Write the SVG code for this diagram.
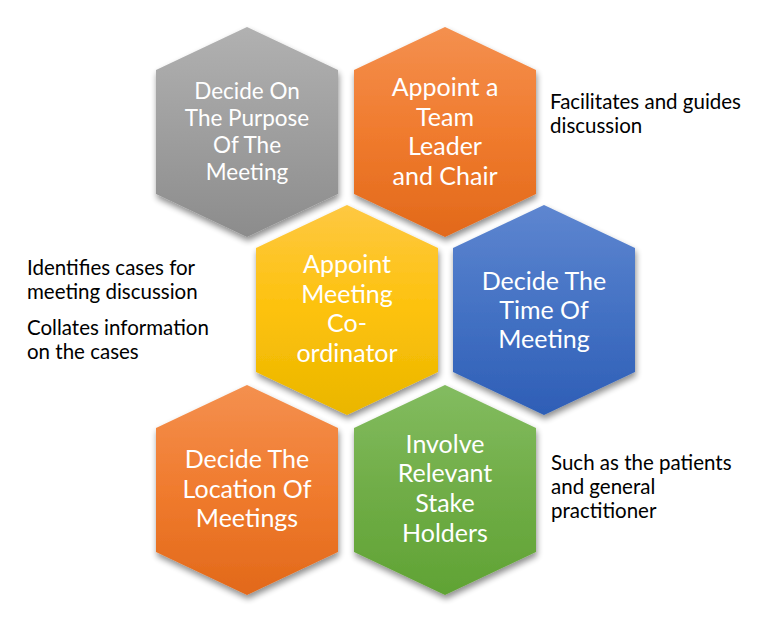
<svg xmlns="http://www.w3.org/2000/svg" width="768" height="627" viewBox="0 0 768 627">
<defs>
<linearGradient id="gGray" x1="0" y1="0" x2="0" y2="1"><stop offset="0" stop-color="#b1b1b1"/><stop offset="1" stop-color="#8c8c8c"/></linearGradient>
<linearGradient id="gOrange" x1="0" y1="0" x2="0" y2="1"><stop offset="0" stop-color="#f4904f"/><stop offset="0.5" stop-color="#f07b2e"/><stop offset="1" stop-color="#e2691a"/></linearGradient>
<linearGradient id="gYellow" x1="0" y1="0" x2="0" y2="1"><stop offset="0" stop-color="#fec842"/><stop offset="0.5" stop-color="#fdc20c"/><stop offset="1" stop-color="#eab600"/></linearGradient>
<linearGradient id="gBlue" x1="0" y1="0" x2="0" y2="1"><stop offset="0" stop-color="#5e86d0"/><stop offset="0.5" stop-color="#4472c4"/><stop offset="1" stop-color="#2e5eb6"/></linearGradient>
<linearGradient id="gGreen" x1="0" y1="0" x2="0" y2="1"><stop offset="0" stop-color="#83bc60"/><stop offset="0.5" stop-color="#70ad47"/><stop offset="1" stop-color="#60a334"/></linearGradient>
<filter id="shadow" x="-20%" y="-20%" width="140%" height="140%">
<feGaussianBlur in="SourceAlpha" stdDeviation="3"/>
<feOffset dx="1" dy="4" result="b"/>
<feComponentTransfer><feFuncA type="linear" slope="0.45"/></feComponentTransfer>
<feMerge><feMergeNode/><feMergeNode in="SourceGraphic"/></feMerge>
</filter>
<polygon id="hex" points="0,-105 91,-62 91,62 0,105 -91,62 -91,-62"/>
</defs>
<style>
.hex{filter:url(#shadow);}
.lbl{font-family:"Lato","Liberation Sans",sans-serif;fill:#ffffff;text-anchor:middle;font-size:25px;}
.lbl.sm{font-size:22.5px;}
.note{font-family:"Lato","Liberation Sans",sans-serif;fill:#000000;font-size:20.5px;}
</style>
<rect width="768" height="627" fill="#ffffff"/>
<g id="connectors"/>
<g id="n-purpose" transform="translate(247,132)">
<use href="#hex" class="hex" fill="url(#gGray)"/>
<text class="lbl sm" y="-33">Decide On</text>
<text class="lbl sm" y="-6">The Purpose</text>
<text class="lbl sm" y="21">Of The</text>
<text class="lbl sm" y="48">Meeting</text>
</g>
<g id="n-leader" transform="translate(445,132)">
<use href="#hex" class="hex" fill="url(#gOrange)"/>
<text class="lbl" y="-36">Appoint a</text>
<text class="lbl" y="-6">Team</text>
<text class="lbl" y="23">Leader</text>
<text class="lbl" y="53">and Chair</text>
</g>
<g id="n-coordinator" transform="translate(347,310)">
<use href="#hex" class="hex" fill="url(#gYellow)"/>
<text class="lbl" y="-37">Appoint</text>
<text class="lbl" y="-7">Meeting</text>
<text class="lbl" y="22">Co-</text>
<text class="lbl" y="52">ordinator</text>
</g>
<g id="n-time" transform="translate(544,310)">
<use href="#hex" class="hex" fill="url(#gBlue)"/>
<text class="lbl" y="-20">Decide The</text>
<text class="lbl" y="9">Time Of</text>
<text class="lbl" y="38">Meeting</text>
</g>
<g id="n-location" transform="translate(247,490)">
<use href="#hex" class="hex" fill="url(#gOrange)"/>
<text class="lbl" y="-22">Decide The</text>
<text class="lbl" y="8">Location Of</text>
<text class="lbl" y="37">Meetings</text>
</g>
<g id="n-stakeholders" transform="translate(445,490)">
<use href="#hex" class="hex" fill="url(#gGreen)"/>
<text class="lbl" y="-37">Involve</text>
<text class="lbl" y="-8">Relevant</text>
<text class="lbl" y="22">Stake</text>
<text class="lbl" y="52">Holders</text>
</g>
<g id="note-leader">
<text class="note" x="550" y="109">Facilitates  and guides</text>
<text class="note" x="550" y="133">discussion</text>
</g>
<g id="note-coordinator">
<text class="note" x="27" y="275">Identifies cases for</text>
<text class="note" x="27" y="299">meeting discussion</text>
<text class="note" x="27" y="335">Collates information</text>
<text class="note" x="27" y="359">on the cases</text>
</g>
<g id="note-stakeholders">
<text class="note" x="551" y="470">Such as the patients</text>
<text class="note" x="551" y="494">and general</text>
<text class="note" x="551" y="518">practitioner</text>
</g>
</svg>
